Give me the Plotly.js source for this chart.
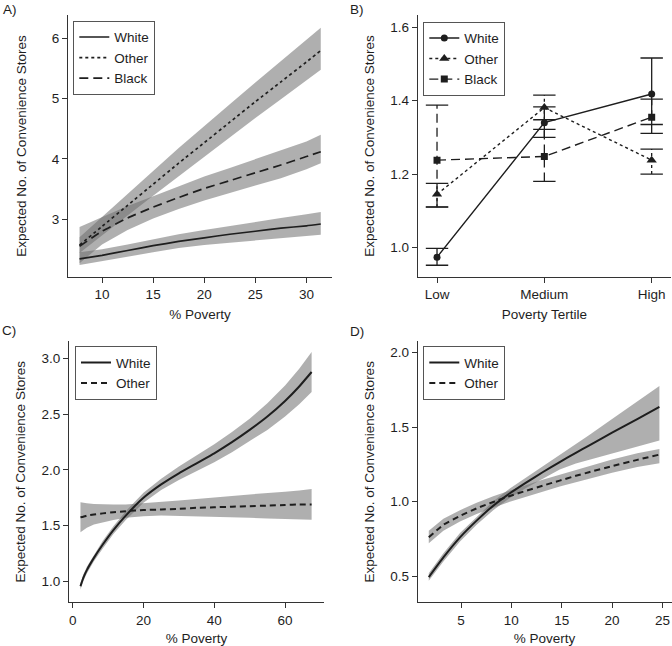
<!DOCTYPE html>
<html><head><meta charset="utf-8">
<script src="https://cdn.plot.ly/plotly-3.0.1.min.js"></script>
<style>html,body{margin:0;padding:0;background:#fff}#chart{width:672px;height:646px}</style>
</head><body><div id="chart"></div>
<script>
// ---------- Panel A: % Poverty (continuous), three groups ----------
const aX       = [7.8, 10, 12.5, 15, 17.5, 20, 22.5, 25, 27.5, 30, 31.4];
const aWhite   = [2.34, 2.40, 2.48, 2.56, 2.63, 2.69, 2.75, 2.80, 2.85, 2.89, 2.92];
const aWhiteLo = [2.24, 2.30, 2.38, 2.45, 2.52, 2.57, 2.61, 2.65, 2.69, 2.72, 2.74];
const aWhiteHi = [2.45, 2.50, 2.58, 2.67, 2.75, 2.82, 2.89, 2.96, 3.02, 3.08, 3.12];
const aOther   = [2.57, 2.88, 3.23, 3.58, 3.93, 4.27, 4.61, 4.95, 5.28, 5.61, 5.80];
const aOtherLo = [2.44, 2.73, 3.06, 3.39, 3.72, 4.04, 4.36, 4.68, 4.99, 5.30, 5.48];
const aOtherHi = [2.70, 3.04, 3.42, 3.80, 4.18, 4.55, 4.91, 5.27, 5.62, 5.97, 6.18];
const aBlack   = [2.55, 2.80, 3.02, 3.20, 3.36, 3.51, 3.64, 3.77, 3.90, 4.04, 4.12];
const aBlackLo = [2.27, 2.58, 2.82, 3.01, 3.17, 3.31, 3.44, 3.56, 3.68, 3.83, 3.93];
const aBlackHi = [2.87, 3.04, 3.22, 3.38, 3.55, 3.71, 3.85, 4.00, 4.14, 4.29, 4.40];

// ---------- Panel B: poverty tertiles ----------
const bCats    = ['Low', 'Medium', 'High'];
const bWhite   = [0.974, 1.340, 1.418];
const bWhiteLo = [0.952, 1.300, 1.335];
const bWhiteHi = [0.998, 1.383, 1.516];
const bOther   = [1.145, 1.381, 1.238];
const bOtherLo = [1.110, 1.348, 1.200];
const bOtherHi = [1.175, 1.415, 1.268];
const bBlack   = [1.238, 1.248, 1.355];
const bBlackLo = [1.111, 1.180, 1.311];
const bBlackHi = [1.388, 1.322, 1.404];

// ---------- Panel C ----------
const cX       = [2.2, 3, 4, 6, 8.5, 11.5, 15, 20, 25, 30, 35, 40, 45, 50, 55, 60, 64, 67.5];
const cWhite   = [0.955, 1.03, 1.10, 1.21, 1.33, 1.46, 1.59, 1.75, 1.87, 1.97, 2.06, 2.15, 2.25, 2.36, 2.48, 2.62, 2.75, 2.88];
const cWhiteLo = [0.925, 1.00, 1.07, 1.18, 1.295, 1.425, 1.55, 1.705, 1.82, 1.91, 1.99, 2.07, 2.16, 2.26, 2.36, 2.48, 2.59, 2.70];
const cWhiteHi = [0.985, 1.06, 1.13, 1.24, 1.365, 1.495, 1.63, 1.795, 1.92, 2.03, 2.13, 2.23, 2.34, 2.46, 2.60, 2.76, 2.91, 3.06];
const cOther   = [1.575, 1.58, 1.59, 1.60, 1.61, 1.62, 1.63, 1.64, 1.645, 1.65, 1.66, 1.665, 1.67, 1.675, 1.68, 1.685, 1.69, 1.69];
const cOtherLo = [1.44, 1.46, 1.48, 1.51, 1.53, 1.55, 1.57, 1.585, 1.59, 1.59, 1.585, 1.58, 1.575, 1.57, 1.565, 1.56, 1.555, 1.553];
const cOtherHi = [1.71, 1.705, 1.70, 1.695, 1.69, 1.69, 1.69, 1.70, 1.71, 1.725, 1.74, 1.75, 1.765, 1.78, 1.795, 1.805, 1.815, 1.83];

// ---------- Panel D ----------
const dX       = [1.8, 3.25, 4.9, 6.55, 8.2, 9.85, 11.5, 13.1, 14.8, 16.4, 17.7, 20, 22.5, 24.7];
const dWhite   = [0.495, 0.627, 0.761, 0.873, 0.973, 1.056, 1.129, 1.197, 1.265, 1.327, 1.376, 1.462, 1.553, 1.635];
const dWhiteLo = [0.47, 0.60, 0.734, 0.845, 0.943, 1.024, 1.093, 1.152, 1.215, 1.256, 1.28, 1.323, 1.37, 1.41];
const dWhiteHi = [0.52, 0.655, 0.79, 0.90, 1.003, 1.088, 1.163, 1.235, 1.31, 1.385, 1.445, 1.553, 1.67, 1.775];
const dOther   = [0.761, 0.845, 0.905, 0.955, 0.998, 1.038, 1.074, 1.107, 1.141, 1.173, 1.197, 1.238, 1.280, 1.315];
const dOtherLo = [0.721, 0.805, 0.867, 0.917, 0.960, 1.000, 1.036, 1.067, 1.101, 1.133, 1.155, 1.194, 1.232, 1.257];
const dOtherHi = [0.806, 0.885, 0.943, 0.993, 1.036, 1.076, 1.112, 1.147, 1.181, 1.215, 1.241, 1.283, 1.325, 1.353];

// ---------- styling ----------
const INK = '#1e1e1e';
const BAND = 'rgba(110,110,110,0.55)';
const FONT = {family: 'Liberation Sans, Arial, Helvetica, sans-serif', size: 13.5, color: INK};

function band(x, lo, hi, xa, ya) {
  return {x: x.concat(x.slice().reverse()), y: hi.concat(lo.slice().reverse()),
    type: 'scatter', mode: 'lines', fill: 'toself', fillcolor: BAND, line: {width: 0},
    hoverinfo: 'skip', showlegend: false, xaxis: xa, yaxis: ya};
}
function curve(x, y, name, dash, width, xa, ya, leg) {
  return {x: x, y: y, name: name, type: 'scatter', mode: 'lines',
    line: {color: INK, width: width, dash: dash, shape: 'spline', smoothing: 0.4},
    xaxis: xa, yaxis: ya, legend: leg};
}
function errSeg(cats, lo, hi, dash) {
  const x = [], y = [];
  cats.forEach((c, i) => { x.push(c, c, null); y.push(lo[i], hi[i], null); });
  return {x: x, y: y, type: 'scatter', mode: 'lines', connectgaps: false,
    line: {color: INK, width: 1.3, dash: dash}, showlegend: false, hoverinfo: 'skip',
    xaxis: 'x2', yaxis: 'y2'};
}
function caps(cats, lo, hi) {
  return {x: cats.concat(cats), y: lo.concat(hi), type: 'scatter', mode: 'markers',
    marker: {symbol: 'line-ew', size: 16, color: INK, line: {width: 1.3, color: INK}},
    showlegend: false, hoverinfo: 'skip', xaxis: 'x2', yaxis: 'y2'};
}
function points(cats, y, name, dash, symbol, size) {
  return {x: cats, y: y, name: name, type: 'scatter', mode: 'lines+markers',
    line: {color: INK, width: 1.4, dash: dash},
    marker: {symbol: symbol, size: size, color: INK},
    xaxis: 'x2', yaxis: 'y2', legend: 'legend2'};
}

const DOT = '3px,3px', DASH = '9px,5px', SHORT = '6px,4px';

const traces = [
  band(aX, aWhiteLo, aWhiteHi, 'x', 'y'),
  band(aX, aOtherLo, aOtherHi, 'x', 'y'),
  band(aX, aBlackLo, aBlackHi, 'x', 'y'),
  curve(aX, aWhite, 'White', 'solid', 1.7, 'x', 'y', 'legend'),
  curve(aX, aOther, 'Other', DOT, 1.7, 'x', 'y', 'legend'),
  curve(aX, aBlack, 'Black', DASH, 1.7, 'x', 'y', 'legend'),

  errSeg(bCats, bWhiteLo, bWhiteHi, 'solid'),
  errSeg(bCats, bOtherLo, bOtherHi, DOT),
  errSeg(bCats, bBlackLo, bBlackHi, DASH),
  caps(bCats, bWhiteLo, bWhiteHi),
  caps(bCats, bOtherLo, bOtherHi),
  caps(bCats, bBlackLo, bBlackHi),
  points(bCats, bWhite, 'White', 'solid', 'circle', 7),
  points(bCats, bOther, 'Other', DOT, 'triangle-up', 9),
  points(bCats, bBlack, 'Black', DASH, 'square', 7),

  band(cX, cWhiteLo, cWhiteHi, 'x3', 'y3'),
  band(cX, cOtherLo, cOtherHi, 'x3', 'y3'),
  curve(cX, cWhite, 'White', 'solid', 2, 'x3', 'y3', 'legend3'),
  curve(cX, cOther, 'Other', SHORT, 2, 'x3', 'y3', 'legend3'),

  band(dX, dWhiteLo, dWhiteHi, 'x4', 'y4'),
  band(dX, dOtherLo, dOtherHi, 'x4', 'y4'),
  curve(dX, dWhite, 'White', 'solid', 2, 'x4', 'y4', 'legend4'),
  curve(dX, dOther, 'Other', SHORT, 2, 'x4', 'y4', 'legend4')
];

const W = 672, H = 646;
function ax(extra) {
  return Object.assign({
    showline: true, linecolor: '#333', linewidth: 1, mirror: false, automargin: false,
    ticks: 'outside', ticklen: 5, tickwidth: 1, tickcolor: '#333', autorange: false,
    showgrid: false, zeroline: false, tickfont: FONT, fixedrange: true
  }, extra);
}
function leg(xpx, ypx) {
  return {x: xpx / W, y: 1 - ypx / H, xanchor: 'left', yanchor: 'top', xref: 'paper', yref: 'paper',
    bgcolor: 'rgba(255,255,255,0)', bordercolor: '#555', borderwidth: 1, font: FONT,
    tracegroupgap: 0, itemwidth: 30};
}
const yTitle = 'Expected No. of Convenience Stores';

const layout = {
  width: W, height: H, margin: {l: 0, r: 0, t: 0, b: 0, pad: 0, autoexpand: false},
  paper_bgcolor: '#fff', plot_bgcolor: '#fff', font: FONT, showlegend: true,
  xaxis:  ax({domain: [68/W, 332/W], anchor: 'y', range: [6.67, 32.5], tickvals: [10, 15, 20, 25, 30],
               title: {text: '% Poverty', font: FONT, standoff: 8}}),
  yaxis:  ax({domain: [1-277/H, 1-15/H], anchor: 'x', range: [2.04, 6.39], tickvals: [3, 4, 5, 6],
               title: {text: yTitle, font: FONT, standoff: 22}}),
  xaxis2: ax({domain: [417.7/W, 671/W], anchor: 'y2', type: 'category', range: [-0.18, 2.18],
               title: {text: 'Poverty Tertile', font: FONT, standoff: 8}}),
  yaxis2: ax({domain: [1-277/H, 1-15/H], anchor: 'x2', range: [0.92, 1.633], tickvals: [1.0, 1.2, 1.4, 1.6], tickformat: '.1f',
               title: {text: yTitle, font: FONT, standoff: 12}}),
  xaxis3: ax({domain: [69/W, 324/W], anchor: 'y3', range: [-1.04, 71], tickvals: [0, 20, 40, 60],
               title: {text: '% Poverty', font: FONT, standoff: 8}}),
  yaxis3: ax({domain: [1-602.3/H, 1-341.3/H], anchor: 'x3', range: [0.811, 3.156], tickvals: [1.0, 1.5, 2.0, 2.5, 3.0], tickformat: '.1f',
               title: {text: yTitle, font: FONT, standoff: 12}}),
  xaxis4: ax({domain: [417.7/W, 671.5/W], anchor: 'y4', range: [0.70, 25.9], tickvals: [5, 10, 15, 20, 25],
               title: {text: '% Poverty', font: FONT, standoff: 8}}),
  yaxis4: ax({domain: [1-602.3/H, 1-341.3/H], anchor: 'x4', range: [0.326, 2.074], tickvals: [0.5, 1.0, 1.5, 2.0], tickformat: '.1f',
               title: {text: yTitle, font: FONT, standoff: 12}}),
  legend:  leg(73.3, 20.7),
  legend2: leg(423.3, 21.7),
  legend3: leg(75, 346.3),
  legend4: leg(423.3, 346.3),
  annotations: [
    {text: 'A)', x: 1/W, y: 1-10/H},
    {text: 'B)', x: 348/W, y: 1-9/H},
    {text: 'C)', x: 0/W, y: 1-330/H},
    {text: 'D)', x: 348/W, y: 1-331/H}
  ].map(a => Object.assign({xref: 'paper', yref: 'paper', xanchor: 'left', yanchor: 'middle',
                            showarrow: false, font: FONT}, a))
};

Plotly.newPlot('chart', traces, layout, {displayModeBar: false, staticPlot: true});
</script>
</body></html>
